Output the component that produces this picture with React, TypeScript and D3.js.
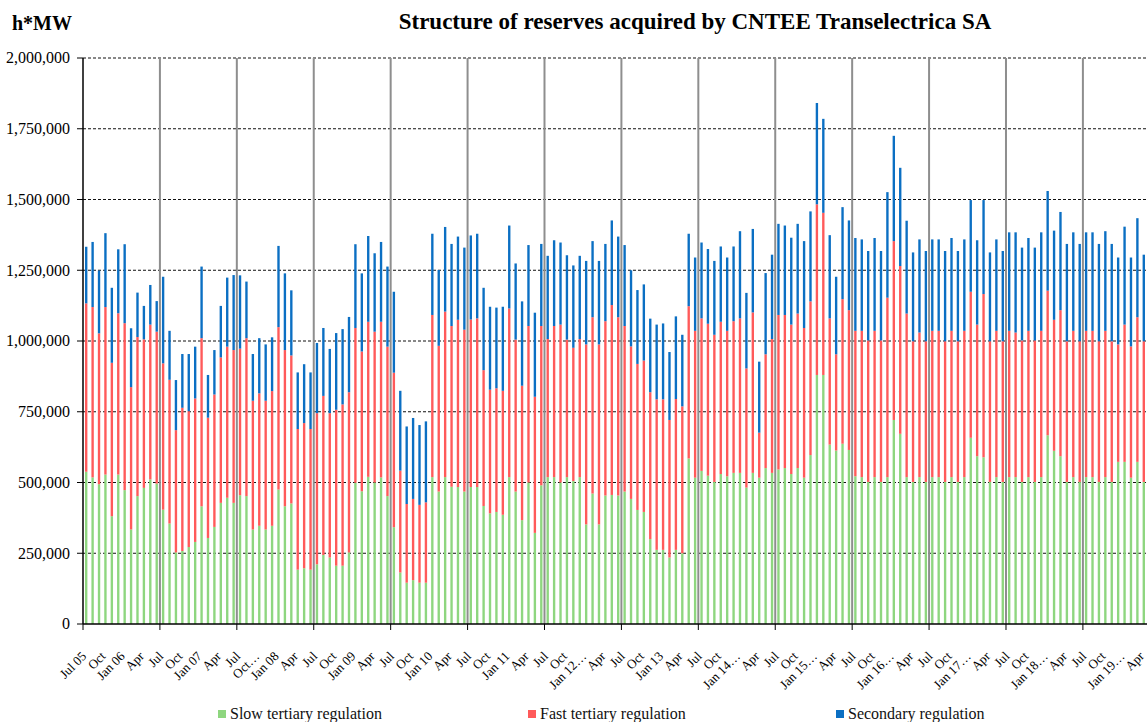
import * as d3 from "d3";
import React, { useEffect, useRef } from "react";

// monthly reserves, Jul 2005 .. Apr 2019, thousands of h*MW
const slow = [
  538, 518, 494, 528, 381, 528, 473, 334, 452, 481, 511, 496,
  404, 355, 253, 258, 272, 290, 416, 304, 343, 428, 446, 428,
  455, 452, 334, 347, 334, 347, 475, 416, 426, 192, 197, 192,
  211, 244, 235, 206, 206, 253, 499, 469, 520, 500, 518, 452,
  342, 182, 146, 155, 146, 146, 519, 468, 519, 485, 484, 468,
  484, 484, 417, 391, 396, 386, 519, 468, 367, 500, 322, 490,
  519, 519, 500, 519, 505, 519, 352, 461, 352, 454, 456, 454,
  468, 442, 403, 396, 300, 262, 262, 235, 262, 250, 585, 517,
  541, 524, 502, 530, 522, 534, 534, 482, 534, 517, 551, 534,
  546, 551, 530, 551, 517, 597, 880, 880, 634, 613, 637, 615,
  522, 519, 502, 519, 502, 519, 721, 672, 519, 502, 519, 502,
  519, 519, 502, 519, 502, 519, 658, 593, 589, 502, 519, 502,
  519, 519, 502, 519, 502, 519, 667, 612, 593, 502, 519, 502,
  519, 519, 502, 519, 502, 573, 573, 517, 573, 502,
];
const fast = [
  595, 602, 533, 592, 542, 570, 590, 503, 562, 525, 547, 537,
  517, 508, 432, 506, 480, 507, 594, 425, 468, 514, 534, 540,
  518, 558, 455, 468, 455, 476, 574, 552, 523, 497, 513, 497,
  534, 562, 510, 551, 570, 566, 547, 494, 548, 533, 550, 528,
  546, 360, 278, 287, 275, 284, 573, 515, 585, 568, 591, 572,
  592, 596, 480, 437, 437, 438, 596, 537, 475, 553, 481, 563,
  488, 534, 558, 486, 471, 488, 636, 623, 636, 616, 671, 630,
  585, 539, 516, 535, 519, 532, 532, 486, 533, 519, 538, 519,
  539, 537, 520, 538, 514, 536, 546, 421, 567, 159, 402, 473,
  546, 541, 528, 546, 529, 543, 603, 573, 446, 340, 511, 494,
  514, 517, 500, 517, 500, 634, 632, 593, 578, 497, 511, 497,
  517, 517, 497, 517, 497, 517, 516, 465, 577, 497, 517, 497,
  517, 511, 500, 517, 500, 517, 511, 463, 516, 497, 517, 497,
  517, 517, 497, 517, 497, 415, 485, 464, 511, 497,
];
const secondary = [
  200, 230, 222, 261, 265, 226, 279, 208, 157, 118, 140, 108,
  306, 173, 177, 190, 202, 183, 253, 151, 157, 182, 244, 265,
  259, 200, 165, 195, 199, 190, 287, 271, 230, 200, 208, 200,
  248, 240, 227, 271, 266, 266, 296, 276, 303, 277, 282, 283,
  286, 282, 274, 286, 282, 286, 287, 268, 299, 290, 294, 290,
  297, 299, 291, 293, 285, 297, 293, 269, 298, 286, 297, 290,
  294, 303, 290, 298, 291, 294, 295, 269, 295, 273, 299, 285,
  286, 269, 261, 269, 260, 264, 268, 240, 292, 253, 256, 259,
  268, 264, 261, 266, 259, 264, 308, 267, 295, 251, 287, 298,
  322, 316, 307, 317, 307, 318, 358, 332, 294, 274, 325, 317,
  328, 323, 316, 328, 316, 373, 372, 347, 328, 314, 329, 319,
  323, 323, 319, 328, 319, 323, 324, 298, 332, 314, 323, 319,
  348, 354, 328, 328, 328, 348, 352, 315, 347, 344, 348, 344,
  348, 348, 344, 352, 344, 307, 346, 314, 350, 306,
];

// one label every third month
const tickLabels = [
  "Jul 05", "Oct", "Jan 06", "Apr",
  "Jul", "Oct", "Jan 07", "Apr",
  "Jul", "Oct…", "Jan 08", "Apr",
  "Jul", "Oct", "Jan 09", "Apr",
  "Jul", "Oct", "Jan 10", "Apr",
  "Jul", "Oct", "Jan 11", "Apr",
  "Jul", "Oct", "Jan 12…", "Apr",
  "Jul", "Oct", "Jan 13", "Apr",
  "Jul", "Oct", "Jan 14…", "Apr",
  "Jul", "Oct", "Jan 15…", "Apr",
  "Jul", "Oct", "Jan 16…", "Apr",
  "Jul", "Oct", "Jan 17…", "Apr",
  "Jul", "Oct", "Jan 18…", "Apr",
  "Jul", "Oct", "Jan 19…", "Apr",
];

const keys = ["slow", "fast", "secondary"];
const seriesNames = ["Slow tertiary regulation", "Fast tertiary regulation", "Secondary regulation"];
const colors = ["#8ED67F", "#FF5A5A", "#0B6FC3"];
const yTicks = [0, 250000, 500000, 750000, 1000000, 1250000, 1500000, 1750000, 2000000];

const serif = "'Times New Roman', 'Liberation Serif', serif";

function drawChart(node: SVGSVGElement) {
  const svg = d3.select(node);
  svg.selectAll("*").remove();

  const left = 83, right = 1147, top = 58, bottom = 624;

  const idx = d3.range(slow.length);
  const data = idx.map(i => ({
    i,
    slow: slow[i] * 1000,
    fast: fast[i] * 1000,
    secondary: secondary[i] * 1000,
  }));

  const x = d3.scaleBand<number>().domain(idx).range([left, right]);
  const y = d3.scaleLinear().domain([0, 2000000]).range([bottom, top]);
  const step = x.step();
  const barW = step * 0.37;

  // dashed gridlines
  svg.append("g")
    .selectAll("line")
    .data(yTicks.filter(t => t > 0))
    .join("line")
    .attr("x1", left)
    .attr("x2", right)
    .attr("y1", d => y(d))
    .attr("y2", d => y(d))
    .attr("stroke", "#111")
    .attr("stroke-width", 1)
    .attr("stroke-dasharray", "3,2");

  // stacked bars
  const stacked = d3.stack<any>().keys(keys)(data);
  svg.append("g")
    .selectAll("g")
    .data(stacked)
    .join("g")
    .attr("fill", (d, k) => colors[k])
    .selectAll("rect")
    .data(d => d)
    .join("rect")
    .attr("x", d => x(d.data.i)! + (step - barW) / 2)
    .attr("y", d => y(d[1]))
    .attr("height", d => y(d[0]) - y(d[1]))
    .attr("width", barW);

  // year separators (each July)
  const july = idx.filter(i => i % 12 === 0);
  svg.append("g")
    .selectAll("line")
    .data(july.filter(i => i > 0))
    .join("line")
    .attr("x1", d => x(d)!)
    .attr("x2", d => x(d)!)
    .attr("y1", top)
    .attr("y2", bottom)
    .attr("stroke", "#8e8e8e")
    .attr("stroke-width", 2);

  // y axis
  const yAxis = svg.append("g");
  yAxis.append("line")
    .attr("x1", left).attr("x2", left)
    .attr("y1", top).attr("y2", bottom)
    .attr("stroke", "#000").attr("stroke-width", 1.5);
  yAxis.selectAll("line.tick")
    .data(yTicks)
    .join("line")
    .attr("class", "tick")
    .attr("x1", left - 6).attr("x2", left)
    .attr("y1", d => y(d)).attr("y2", d => y(d))
    .attr("stroke", "#000");
  yAxis.selectAll("text")
    .data(yTicks)
    .join("text")
    .attr("x", 70)
    .attr("y", d => y(d))
    .attr("dy", "0.34em")
    .attr("text-anchor", "end")
    .attr("font-family", serif)
    .attr("font-size", 16)
    .text(d => d3.format(",")(d));

  // x axis
  const xAxis = svg.append("g");
  xAxis.append("line")
    .attr("x1", left).attr("x2", right)
    .attr("y1", bottom).attr("y2", bottom)
    .attr("stroke", "#000").attr("stroke-width", 1.5);
  xAxis.selectAll("line.tick")
    .data(july)
    .join("line")
    .attr("class", "tick")
    .attr("x1", d => x(d)!).attr("x2", d => x(d)!)
    .attr("y1", bottom).attr("y2", bottom + 6)
    .attr("stroke", "#000");
  const labelIdx = idx.filter(i => i % 3 === 0);
  xAxis.selectAll("text")
    .data(labelIdx)
    .join("text")
    .attr("transform", d => `translate(${x(d)! + step / 2 + 1},657) rotate(-45)`)
    .attr("text-anchor", "end")
    .attr("font-family", serif)
    .attr("font-size", 13)
    .text((d, k) => tickLabels[k]);

  // titles
  svg.append("text")
    .attr("x", 695)
    .attr("y", 29)
    .attr("text-anchor", "middle")
    .attr("font-family", serif)
    .attr("font-weight", "bold")
    .attr("font-size", 23)
    .text("Structure of reserves acquired by CNTEE Transelectrica SA");
  svg.append("text")
    .attr("x", 12)
    .attr("y", 30)
    .attr("font-family", serif)
    .attr("font-weight", "bold")
    .attr("font-size", 20)
    .text("h*MW");

  // legend
  const legendX = [218, 528, 836];
  const legend = svg.append("g")
    .selectAll("g")
    .data(seriesNames)
    .join("g")
    .attr("transform", (d, k) => `translate(${legendX[k]},710)`);
  legend.append("rect")
    .attr("width", 8)
    .attr("height", 8)
    .attr("fill", (d, k) => colors[k]);
  legend.append("text")
    .attr("x", 12)
    .attr("y", 9)
    .attr("font-family", serif)
    .attr("font-size", 16)
    .attr("fill", "#111")
    .text(d => d);
}

export default function App() {
  const ref = useRef<SVGSVGElement>(null);
  useEffect(() => {
    if (ref.current) drawChart(ref.current);
  }, []);
  return (
    <div style={{ position: "absolute", left: 0, top: 0 }}>
      <svg ref={ref} width={1147} height={722} style={{ display: "block", background: "#fff" }} />
    </div>
  );
}
